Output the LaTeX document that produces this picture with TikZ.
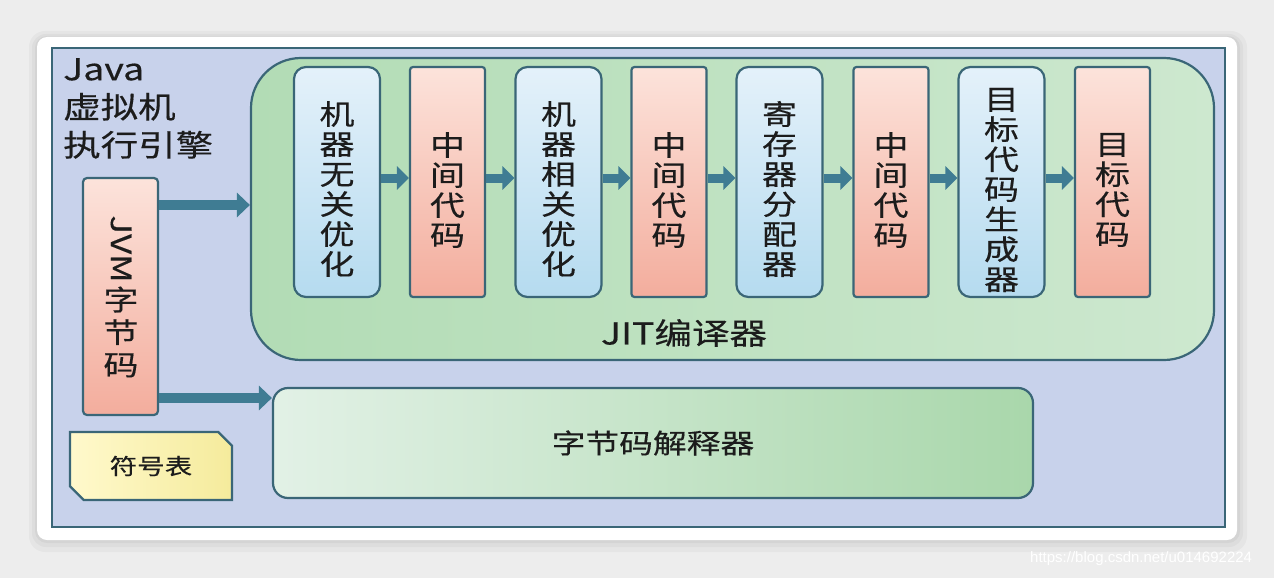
\documentclass[tikz,border=0pt]{standalone}
\usepackage{fontspec}
\setmainfont{Noto Sans CJK SC}[FakeStretch=1.25,FakeBold=0.4]
\newfontfamily\wmfont{Liberation Sans}
\usetikzlibrary{arrows.meta,shapes.misc}
\definecolor{bgc}{HTML}{EDEDED}
\definecolor{bord}{HTML}{3A6677}
\definecolor{lav}{HTML}{C8D2EB}
\definecolor{txt}{HTML}{1C1C1C}
\definecolor{arrc}{HTML}{3F7C93}
\definecolor{gA}{HTML}{B2DCB5}
\definecolor{gB}{HTML}{CDE8CF}
\definecolor{iA}{HTML}{E2F1E6}
\definecolor{iB}{HTML}{A9D7AB}
\definecolor{bA}{HTML}{E4F1FA}
\definecolor{bB}{HTML}{B5DBEF}
\definecolor{pA}{HTML}{FCE3DB}
\definecolor{pB}{HTML}{F3AD9D}
\definecolor{yA}{HTML}{FFF9CC}
\definecolor{yB}{HTML}{F5EB9C}
\tikzset{
  colbox/.style={draw=bord, line width=2.2pt, minimum height=230pt, inner sep=0pt},
  bluebox/.style={colbox, minimum width=86pt, rounded corners=12pt, top color=bA, bottom color=bB},
  pinkbox/.style={colbox, minimum width=75pt, rounded corners=3pt, top color=pA, bottom color=pB},
  coltext/.style={align=center, inner sep=0pt, text=txt, font=\fontsize{28}{30}\selectfont},
  arr/.style={arrc, line width=9pt, -{Triangle[width=23pt,length=12pt]}},
  bigarr/.style={arrc, line width=10pt, -{Triangle[width=24pt,length=13pt]}}
}
\begin{document}
\begin{tikzpicture}[x=1pt,y=-1pt]
\useasboundingbox (0,0) rectangle (1274,578);
\fill[bgc] (0,0) rectangle (1274,578);
% card with soft shadow
\fill[black,opacity=0.03,rounded corners=16pt] (29,31) rectangle (1247,552);
\fill[black,opacity=0.03,rounded corners=14pt] (32,34) rectangle (1243,547);
\fill[black,opacity=0.04,rounded corners=12pt] (35,36) rectangle (1240,543);
\fill[white,rounded corners=10pt] (37,37) rectangle (1237,540);
% engine frame
\node[draw=bord, line width=2.6pt, fill=lav, minimum width=1173pt, minimum height=479pt, inner sep=0pt]
  (engine) at (638.5,287.5) {};
\node[anchor=north west, inner sep=0pt, align=left, text=txt, font=\fontsize{30}{38}\selectfont]
  (title) at (63,58) {Java\\虚拟机\\执行引擎};
% JIT compiler area
\node[draw=bord, line width=2.2pt, left color=gA, right color=gB, rounded corners=50pt,
  minimum width=963pt, minimum height=302pt, inner sep=0pt] (jit) at (732.5,209) {};
\node[text=txt, font=\fontsize{30}{32}\selectfont, inner sep=0pt] (jitlabel) at (684,333) {JIT编译器};
% columns
\node[bluebox] (c1) at (337,182) {};
\node[pinkbox] (c2) at (447.5,182) {};
\node[bluebox] (c3) at (558.5,182) {};
\node[pinkbox] (c4) at (669,182) {};
\node[bluebox] (c5) at (779.5,182) {};
\node[pinkbox] (c6) at (891,182) {};
\node[bluebox] (c7) at (1001.5,182) {};
\node[pinkbox] (c8) at (1112.5,182) {};
\node[coltext] (t1) at ([yshift=-7pt]c1.center) {机\\器\\无\\关\\优\\化};
\node[coltext] (t2) at ([yshift=-8pt]c2.center) {中\\间\\代\\码};
\node[coltext] (t3) at ([yshift=-7pt]c3.center) {机\\器\\相\\关\\优\\化};
\node[coltext] (t4) at ([yshift=-8pt]c4.center) {中\\间\\代\\码};
\node[coltext] (t5) at ([yshift=-7pt]c5.center) {寄\\存\\器\\分\\配\\器};
\node[coltext] (t6) at ([yshift=-8pt]c6.center) {中\\间\\代\\码};
\node[coltext] (t7) at ([yshift=-8pt]c7.center) {目\\标\\代\\码\\生\\成\\器};
\node[coltext] (t8) at ([yshift=-8pt]c8.center) {目\\标\\代\\码};
\foreach \a/\b in {c1/c2,c2/c3,c3/c4,c4/c5,c5/c6,c6/c7,c7/c8}{
  \draw[arr] ([yshift=4pt]\a.east) -- ([yshift=4pt]\b.west);
}
% JVM bytecode
\node[draw=bord, line width=2.2pt, top color=pA, bottom color=pB, rounded corners=4pt,
  minimum width=75pt, minimum height=237pt, inner sep=0pt] (jvm) at (120.5,296.5) {};
\node[rotate=-90, text=txt, font=\fontsize{28}{30}\selectfont, inner sep=0pt] (jvmtxt) at (121,249) {JVM};
\node[coltext, font=\fontsize{28}{32.5}\selectfont] (jvmcn) at (121,332) {字\\节\\码};
% interpreter
\node[draw=bord, line width=2.2pt, left color=iA, right color=iB, rounded corners=15pt,
  minimum width=760pt, minimum height=110pt, inner sep=0pt, text=txt,
  font=\fontsize{27}{30}\selectfont] (interp) at (653,443) {字节码解释器};
% symbol table
\node[chamfered rectangle, chamfered rectangle corners={north east,south west},
  chamfered rectangle xsep=12pt, draw=bord, line width=2.2pt, left color=yA, right color=yB,
  minimum width=162pt, minimum height=68pt, inner sep=0pt, text=txt,
  font=\fontsize{22}{26}\selectfont] (sym) at (151,466) {符号表};
% arrows from bytecode
\coordinate (a1) at (jit.west |- 0,205);
\coordinate (a2) at (interp.west |- 0,398);
\draw[bigarr] (jvm.east |- a1) -- (a1);
\draw[bigarr] (jvm.east |- a2) -- (a2);
% watermark
\node[anchor=west, text=white, font=\wmfont\fontsize{15}{18}\selectfont, inner sep=0pt] (wm) at (1030,559) {https://blog.csdn.net/u014692224};
\end{tikzpicture}
\end{document}
